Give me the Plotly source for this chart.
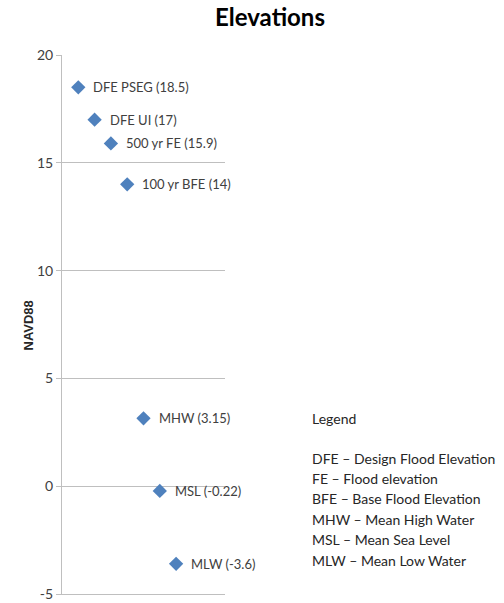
import plotly.graph_objects as go

names = ["DFE PSEG", "DFE UI", "500 yr FE", "100 yr BFE", "MHW", "MSL", "MLW"]
elev = [18.5, 17, 15.9, 14, 3.15, -0.22, -3.6]
xpos = [1, 2, 3, 4, 5, 6, 7]
labels = [f"{n} ({v:g})" for n, v in zip(names, elev)]

y_ticks = [-5, 0, 5, 10, 15, 20]
y_ticktext = ["-5", "0", "5", "10", "15", "20"]

legend_title = "Legend"
legend_lines = [
    "DFE – Design Flood Elevation",
    "FE – Flood elevation",
    "BFE – Base Flood Elevation",
    "MHW – Mean High Water",
    "MSL – Mean Sea Level",
    "MLW – Mean Low Water",
]

W, H = 504, 603
L, R, T, B = 62, 279, 55, 9
pw, ph = W - L - R, H - T - B

def px(x):
    return (x - L) / pw

def py(y):
    return (H - B - y) / ph

FONT = "Lato, Carlito, Calibri, sans-serif"
TXT = "#404040"

fig = go.Figure(go.Scatter(
    x=xpos, y=elev, mode="markers",
    marker=dict(symbol="diamond", size=11, color="#4F81BD"),
    hoverinfo="skip", cliponaxis=False,
))

ann = []
for xv, yv, t in zip(xpos, elev, labels):
    ann.append(dict(text=t, x=xv, y=yv, xref="x", yref="y", xanchor="left", yanchor="middle",
                    xshift=13, showarrow=False, font=dict(family=FONT, size=13, color=TXT)))

ann.append(dict(text="NAVD88", textangle=-90, x=px(18), y=py(326), xref="paper", yref="paper",
                showarrow=False,
                font=dict(family="Liberation Sans, Arial, sans-serif", size=13, color="#262626",
                          weight="bold")))
ann.append(dict(text=legend_title, x=px(310), y=py(418), xref="paper", yref="paper",
                xanchor="left", yanchor="middle", showarrow=False,
                font=dict(family=FONT, size=14, color="#262626")))
for i, t in enumerate(legend_lines):
    ann.append(dict(text=t, x=px(310), y=py(458 + i * 20.4), xref="paper", yref="paper",
                    xanchor="left", yanchor="middle", showarrow=False,
                    font=dict(family=FONT, size=14, color="#262626")))

fig.update_layout(
    width=W, height=H,
    margin=dict(l=L, r=R, t=T, b=B, autoexpand=False),
    paper_bgcolor="white", plot_bgcolor="white",
    showlegend=False,
    title=dict(text="<b>Elevations</b>", x=270 / W, xanchor="center", xref="container",
               y=1 - 18 / H, yref="container", yanchor="middle",
               font=dict(family=FONT, size=24, color="black")),
    xaxis=dict(range=[0, 10], showgrid=False, showticklabels=False, zeroline=False,
               showline=True, linecolor="#bfbfbf", ticks="", automargin=False),
    yaxis=dict(range=[-5, 20], tickmode="array", tickvals=y_ticks, ticktext=y_ticktext,
               showgrid=True, gridcolor="#bfbfbf", automargin=False,
               gridwidth=1, zeroline=False, showline=True, linecolor="#bfbfbf",
               ticks="outside", ticklen=5, tickcolor="#bfbfbf", ticklabeloverflow="allow",
               tickfont=dict(family=FONT, size=14, color=TXT)),
    annotations=ann,
)

fig.write_html("out.html", config={"displayModeBar": False},
               post_script="document.body.style.margin='0';document.body.style.padding='0';")
